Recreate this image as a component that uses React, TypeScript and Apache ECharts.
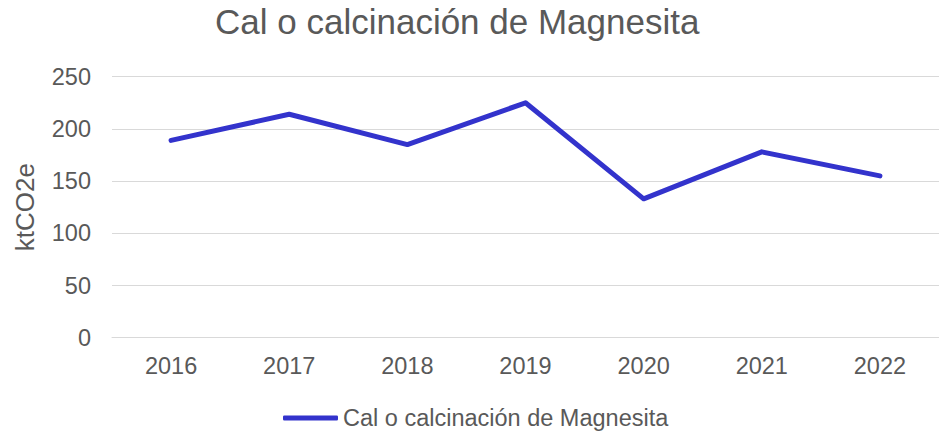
import React, { useEffect, useRef } from "react";
import * as echarts from "echarts";

const categories = ["2016", "2017", "2018", "2019", "2020", "2021", "2022"];
const seriesName = "Cal o calcinación de Magnesita";
const values = [189, 214, 185, 225, 133, 178, 155];
const titleText = "Cal o calcinación de Magnesita";
const yAxisName = "ktCO2e";

export default function App() {
  const ref = useRef<HTMLDivElement>(null);
  useEffect(() => {
    if (!ref.current) return;
    const chart = echarts.init(ref.current, undefined, { renderer: "svg" });
    const font = "'Liberation Sans', Arial, sans-serif";
    chart.setOption({
      animation: false,
      backgroundColor: "#ffffff",
      title: {
        text: titleText,
        left: 215,
        top: 4,
        padding: 0,
        textStyle: { fontFamily: font, fontSize: 35, fontWeight: "normal", color: "#595959" },
      },
      legend: {
        data: [seriesName],
        left: 283,
        top: 406,
        padding: 0,
        icon: "roundRect",
        itemWidth: 55,
        itemHeight: 5,
        itemGap: 5,
        itemStyle: { color: "#3333CC", borderWidth: 0 },
        textStyle: { fontFamily: font, fontSize: 23.5, color: "#595959" },
      },
      grid: { left: 112, top: 76.7, width: 832, height: 261 },
      xAxis: {
        type: "category",
        data: categories,
        boundaryGap: true,
        axisLine: { show: true, lineStyle: { color: "#D9D9D9", width: 1 } },
        axisTick: { show: false },
        axisLabel: { fontFamily: font, fontSize: 23.5, color: "#595959", margin: 16 },
      },
      yAxis: {
        type: "value",
        min: 0,
        max: 250,
        interval: 50,
        name: yAxisName,
        nameLocation: "middle",
        nameGap: 74,
        nameTextStyle: { fontFamily: font, fontSize: 26, color: "#595959" },
        axisLine: { show: false },
        axisTick: { show: false },
        splitLine: { lineStyle: { color: "#D9D9D9", width: 1 } },
        axisLabel: { fontFamily: font, fontSize: 23.5, color: "#595959", margin: 21 },
      },
      series: [
        {
          name: seriesName,
          type: "line",
          data: values,
          symbol: "none",
          lineStyle: { color: "#3333CC", width: 5, cap: "round", join: "round" },
          itemStyle: { color: "#3333CC" },
        },
      ],
    });
    return () => chart.dispose();
  }, []);
  return (
    <div
      ref={ref}
      style={{ position: "fixed", left: 0, top: 0, width: 939, height: 431 }}
    />
  );
}
